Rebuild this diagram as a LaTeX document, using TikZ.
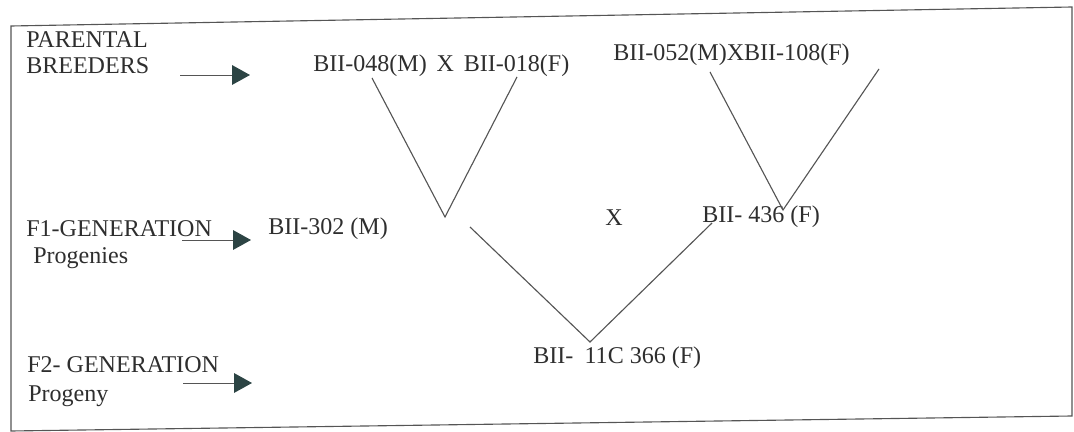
\documentclass[tikz,border=0pt]{standalone}
\usepackage{fontspec}
\setmainfont{Liberation Serif}
\usetikzlibrary{arrows.meta}
\definecolor{ink}{HTML}{2E2E2E}
\definecolor{wire}{HTML}{555555}
\definecolor{headc}{HTML}{2C4444}
\tikzset{
  lbl/.style={anchor=base west,inner sep=0pt,text=ink,font=\fontsize{17.1}{20}\selectfont},
  arr/.style={draw=wire,line width=0.7pt,-{Triangle[length=12.8pt,width=14pt,color=headc,fill=headc]}},
  cross/.style={draw=wire,line width=0.8pt}
}
\begin{document}
\begin{tikzpicture}[x=0.025cm,y=-0.025cm]
        \useasboundingbox (0,0) rectangle (1074,432);
        % frame (scan is slightly skewed)
        \draw[wire,line width=0.8pt] (11,26) -- (1072,7) -- (1072,416) -- (11,431) -- cycle;

        % generation labels
        \path
        (26,48) node[lbl] (par) {PARENTAL}
        (26,74) node[lbl] (bre) {BREEDERS}
        (26,237) node[lbl] (fone) {F1-GENERATION}
        (33,264) node[lbl] (prgs) {Progenies}
        (27,373) node[lbl] (ftwo) {F2- GENERATION}
        (28,402) node[lbl] (prg) {Progeny}
        ;

        \coordinate (a1s) at (180,75);
        \coordinate (a1e) at (250,75);
        \coordinate (a2s) at (182,240);
        \coordinate (a2e) at (251,240);
        \coordinate (a3s) at (183,383);
        \coordinate (a3e) at (252,383);
        \draw[arr] (a1s) -- (a1e);
        \draw[arr] (a2s) -- (a2e);
        \draw[arr] (a3s) -- (a3e);

        % crosses
        \path
        (313,72) node[lbl] (pA) {BII-048(M)\hspace{7pt}X\hspace{7pt}BII-018(F)}
        (613,61) node[lbl] (pB) {BII-052(M)XBII-108(F)}
        (268,235) node[lbl] (fA) {BII-302 (M)}
        (605,226) node[lbl] (fX) {X}
        (702,223) node[lbl] (fB) {BII- 436 (F)}
        (533,364) node[lbl] (ff) {BII-\hspace{8pt}11C 366 (F)}
        ;

        \coordinate (vAl) at (372,78);
        \coordinate (vAo) at (445,217);
        \coordinate (vAr) at (517,77);
        \coordinate (vBl) at (710,72);
        \coordinate (vBo) at (783,210);
        \coordinate (vBr) at (879,69);
        \coordinate (vCl) at (470,227);
        \coordinate (vCo) at (590,342);
        \coordinate (vCr) at (712,223);
        \draw[cross] (vAl) -- (vAo) -- (vAr);
        \draw[cross] (vBl) -- (vBo) -- (vBr);
        \draw[cross] (vCl) -- (vCo) -- (vCr);
\end{tikzpicture}
\end{document}
